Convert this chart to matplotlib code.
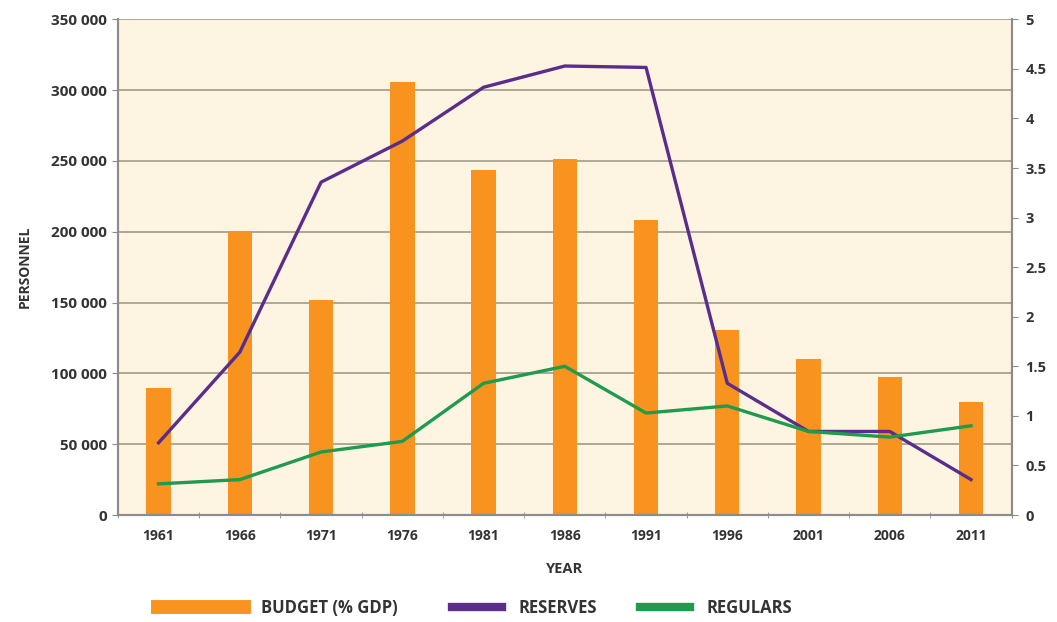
import matplotlib
matplotlib.use("Agg")
import matplotlib.pyplot as plt
from matplotlib.lines import Line2D
import numpy as np

plt.rcParams['font.family'] = ['Open Sans', 'DejaVu Sans']

years = ['1961', '1966', '1971', '1976', '1981', '1986', '1991', '1996', '2001', '2006', '2011']
# budget in % of GDP (right axis)
budget = [1.28, 2.86, 2.17, 4.37, 3.48, 3.59, 2.98, 1.87, 1.57, 1.39, 1.14]
# personnel (left axis)
reserves = [51000, 115000, 235000, 264000, 302000, 317000, 316000, 93000, 59000, 59000, 25000]
regulars = [22000, 25000, 44500, 52000, 93000, 105000, 72000, 77000, 59000, 55000, 63000]

left_ticks = list(range(0, 350001, 50000))
left_labels = ['0', '50 000', '100 000', '150 000', '200 000', '250 000', '300 000', '350 000']
right_ticks = [0, 0.5, 1, 1.5, 2, 2.5, 3, 3.5, 4, 4.5, 5]
right_labels = ['0', '0.5', '1', '1.5', '2', '2.5', '3', '3.5', '4', '4.5', '5']

ORANGE = '#F7931E'
PURPLE = '#5A2D8C'
GREEN = '#1F9A4E'
BG = '#FDF4E2'
TXT = '#333333'
AXC = '#8c8c8c'
W = 'bold'

fig = plt.figure(figsize=(10.57, 6.22), dpi=100)
ax = fig.add_axes([0.1116, 0.172, 0.8455, 0.797])
ax2 = ax.twinx()

x = np.arange(len(years))
scale = 350000 / 5.0  # map % GDP onto the personnel axis

ax.set_facecolor(BG)
ax.bar(x, np.array(budget) * scale, width=0.3, color=ORANGE, zorder=2)
ax.plot(x, reserves, color=PURPLE, lw=2.4, zorder=3)
ax.plot(x, regulars, color=GREEN, lw=2.4, zorder=3)

ax.set_xlim(-0.5, len(years) - 0.5)
ax.set_ylim(0, 350000)
ax.set_yticks(left_ticks)
ax.set_yticklabels(left_labels, fontsize=11, fontweight=W, color=TXT)
ax.yaxis.grid(True, color='#a09a8c', lw=1.2)
ax.set_axisbelow(True)

ax.set_xticks(x)
ax.set_xticklabels(years, fontsize=10, fontweight=W, color=TXT)
ax.set_xticks(np.arange(-0.5, len(years), 1.0), minor=True)
ax.tick_params(axis='x', which='major', length=0, pad=10)
ax.tick_params(axis='x', which='minor', length=4, direction='inout', color=AXC)
ax.tick_params(axis='y', length=4, color=AXC, pad=4)

ax2.set_ylim(0, 5)
ax2.set_yticks(right_ticks)
ax2.set_yticklabels(right_labels, fontsize=10.5, fontweight=W, color=TXT)
ax2.tick_params(axis='y', length=4, color=AXC, pad=6)

for a in (ax, ax2):
    a.spines['top'].set_visible(False)
    for s in ('left', 'right', 'bottom'):
        a.spines[s].set_color(AXC)
        a.spines[s].set_linewidth(1.5)

ax.set_ylabel('PERSONNEL', fontsize=10, fontweight=W, color=TXT, labelpad=14)
ax.set_xlabel('YEAR', fontsize=10.5, fontweight=W, color=TXT, labelpad=14)

leg_font = {'size': 12, 'weight': W}
fig.legend([Line2D([0], [0], color=ORANGE, lw=10)], ['BUDGET (% GDP)'],
           loc='center left', bbox_to_anchor=(0.135, 0.022), frameon=False,
           handlelength=5.2, handletextpad=1.0,
           prop=leg_font, labelcolor=TXT)
fig.legend([Line2D([0], [0], color=PURPLE, lw=6), Line2D([0], [0], color=GREEN, lw=6)],
           ['RESERVES', 'REGULARS'], ncol=2,
           loc='center left', bbox_to_anchor=(0.413, 0.022), frameon=False,
           handlelength=3.0, handletextpad=1.0, columnspacing=2.6,
           prop=leg_font, labelcolor=TXT)

fig.savefig('out.png', dpi=100, facecolor='white')
